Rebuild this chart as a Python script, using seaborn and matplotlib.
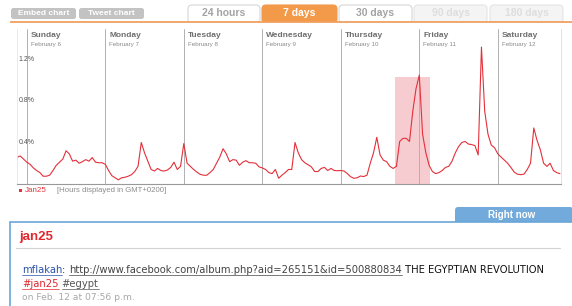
import matplotlib
matplotlib.use("Agg")
import pandas as pd
import matplotlib.pyplot as plt
import seaborn as sns
from matplotlib.patches import FancyBboxPatch, Rectangle

# hourly share of tweets (%), starting Saturday 21:00
share = [0.257, 0.27, 0.24, 0.21, 0.19, 0.155, 0.13, 0.11, 0.075, 0.075,
         0.085, 0.13, 0.18, 0.21, 0.24, 0.32, 0.29, 0.22, 0.23, 0.20,
         0.215, 0.235, 0.22, 0.255, 0.21, 0.205, 0.205, 0.19, 0.13, 0.08,
         0.06, 0.04, 0.06, 0.065, 0.075, 0.09, 0.12, 0.17, 0.40, 0.30,
         0.22, 0.14, 0.125, 0.15, 0.13, 0.125, 0.135, 0.16, 0.21, 0.14,
         0.17, 0.39, 0.20, 0.17, 0.14, 0.115, 0.093, 0.085, 0.084, 0.11,
         0.14, 0.20, 0.26, 0.34, 0.29, 0.215, 0.235, 0.23, 0.18, 0.21,
         0.225, 0.205, 0.205, 0.20, 0.165, 0.155, 0.14, 0.11, 0.10, 0.14,
         0.055, 0.085, 0.11, 0.14, 0.14, 0.40, 0.30, 0.235, 0.205, 0.185,
         0.165, 0.12, 0.12, 0.15, 0.16, 0.13, 0.15, 0.13, 0.128, 0.13,
         0.125, 0.10, 0.07, 0.055, 0.06, 0.077, 0.072, 0.085, 0.20, 0.30,
         0.45, 0.28, 0.23, 0.215, 0.17, 0.15, 0.17, 0.41, 0.44, 0.44,
         0.41, 0.70, 0.92, 1.05, 0.48, 0.30, 0.18, 0.12, 0.10, 0.11,
         0.13, 0.16, 0.17, 0.22, 0.30, 0.36, 0.40, 0.41, 0.385, 0.38,
         0.37, 0.28, 1.32, 0.70, 0.48, 0.375, 0.35, 0.29, 0.26, 0.23,
         0.20, 0.16, 0.115, 0.095, 0.09, 0.095, 0.14, 0.20, 0.54, 0.42,
         0.33, 0.20, 0.17, 0.20, 0.13, 0.11, 0.10]
hours = list(range(len(share)))

day_names = ['Sunday', 'Monday', 'Tuesday', 'Wednesday', 'Thursday', 'Friday', 'Saturday']
day_dates = ['February 6', 'February 7', 'February 8', 'February 9',
             'February 10', 'February 11', 'February 12']
day_starts = [3, 27, 51, 75, 99, 123, 147]
ytick_vals = [0.4, 0.8, 1.2]
ytick_labels = ['0.4%', '0.8%', '1.2%']
hl_from, hl_to, hl_top = 115.6, 126.3, 1.03

tab_names = ['24 hours', '7 days', '30 days', '90 days', '180 days']
tab_x = [(188, 260), (262, 337), (339, 412), (414, 487), (490, 563)]
tab_state = ['on', 'active', 'on', 'off', 'off']

sns.set_style('white')
plt.rcParams['font.family'] = ['Liberation Sans', 'DejaVu Sans']

W, H = 572, 306
fig = plt.figure(figsize=(W / 100, H / 100), dpi=100)

# background axes in pixel units
bg = fig.add_axes([0, 0, 1, 1])
bg.set_xlim(0, W)
bg.set_ylim(H, 0)
bg.axis('off')

# buttons
for (x0, x1), lab in zip([(11, 76), (79, 144)], ['Embed chart', 'Tweet chart']):
    bg.add_patch(FancyBboxPatch((x0, 8), x1 - x0, 11, boxstyle='round,pad=0,rounding_size=2.5',
                                fc='#c3c3c3', ec='none'))
    bg.text((x0 + x1) / 2, 13.7, lab, color='white', fontsize=6, fontweight='bold',
            ha='center', va='center')

# tabs
for (x0, x1), lab, st in zip(tab_x, tab_names, tab_state):
    if st == 'active':
        fc, ec, tc = '#f29a4a', '#f29a4a', 'white'
    elif st == 'on':
        fc, ec, tc = 'white', '#d6d6d6', '#a3a3a3'
    else:
        fc, ec, tc = '#f4f4f4', '#e4e4e4', '#dedede'
    bg.add_patch(FancyBboxPatch((x0, 5), x1 - x0, 18, boxstyle='round,pad=0,rounding_size=4',
                                fc=fc, ec=ec, lw=0.8))
    bg.text((x0 + x1) / 2, 13.5, lab, color=tc, fontsize=7.5, fontweight='bold',
            ha='center', va='center')
bg.add_patch(Rectangle((0, 22), W, 8, fc='white', ec='none'))
bg.plot([10, W], [21.5, 21.5], color='#f0a060', lw=1.3, solid_capstyle='butt')

# legend line
bg.add_patch(Rectangle((19, 188.5), 3, 3, fc='#e3343c', ec='none'))
bg.text(25, 190.5, 'Jan25', color='#e3343c', fontsize=5.8, va='center')
bg.text(57, 190.5, '[Hours displayed in GMT+0200]', color='#8c8c8c', fontsize=5.6, va='center')

# "Right now" box
bg.add_patch(FancyBboxPatch((455, 207), 118, 20, boxstyle='round,pad=0,rounding_size=3',
                            fc='#72aadb', ec='none'))
bg.text(512, 214.5, 'Right now', color='white', fontsize=7, fontweight='bold',
        ha='center', va='center')
bg.add_patch(Rectangle((9.5, 221.5), 600, 120, fc='white', ec='#6aa6d8', lw=1.2))
bg.text(19, 237, 'jan25', color='#e0282e', fontsize=9.5, fontweight='bold', va='center')
bg.plot([16, 560], [247.5, 247.5], color='#d2d2d2', lw=0.8)

renderer = fig.canvas.get_renderer()


def run(x, y, pieces, size=7.2):
    for txt, col, under in pieces:
        t = bg.text(x, y, txt, color=col, fontsize=size, va='center',
                    family=['DejaVu Sans'])
        bb = t.get_window_extent(renderer).transformed(bg.transData.inverted())
        if under:
            bg.plot([bb.x0, bb.x1], [y + 4.6, y + 4.6], color=col, lw=0.5)
        x = bb.x1
    return x


run(22, 270, [('mflakah', '#2a52a8', True), (': ', '#222222', False),
              ('http://www.facebook.com/album.php?aid=265151&id=500880834', '#444444', True),
              (' THE EGYPTIAN REVOLUTION', '#111111', False)])
run(22, 284, [('#jan25', '#e0282e', True), (' ', '#222222', False),
              ('#egypt', '#555555', True)])
run(22, 298, [('on Feb. 12 at 07:56 p.m.', '#a8a8a8', False)], size=6.6)

# chart axes
x_left, x_right, y_top, y_bot = 17, 561, 29, 184
px_per_hour = 78.5 / 24
px_per_pct = 41.5 / 0.4
ax = fig.add_axes([x_left / W, (H - y_bot) / H, (x_right - x_left) / W, (y_bot - y_top) / H])
ax.set_facecolor('none')
ax.set_xlim(0, (x_right - x_left) / px_per_hour)
ax.set_ylim(0, (y_bot - y_top) / px_per_pct)

ax.fill_between([hl_from, hl_to], 0, hl_top, color='#f6c3c8', alpha=0.85, lw=0)
for h, name, date in zip(day_starts, day_names, day_dates):
    ax.axvline(h, color='#b0b0b0', lw=0.7)
    ax.text(h + 1.2, 1.43, name, color='#6e6e6e', fontsize=6, fontweight='bold', va='center')
    ax.text(h + 1.2, 1.345, date, color='#8a8a8a', fontsize=4.5, va='center')

df = pd.DataFrame({'hour': hours, 'share': share})
sns.lineplot(data=df, x='hour', y='share', ax=ax, color='#e3303a', lw=0.8)

for v, lab in zip(ytick_vals, ytick_labels):
    ax.text(0.4, v, lab, color='#555555', fontsize=5, va='center')

ax.set_xticks([])
ax.set_yticks([])
ax.set_xlabel('')
ax.set_ylabel('')
sns.despine(ax=ax, top=True, right=False, left=False, bottom=False)
ax.spines['bottom'].set_color('#999999')
ax.spines['bottom'].set_linewidth(0.8)
ax.spines['left'].set_color('#e6e6e6')
ax.spines['left'].set_linewidth(0.6)
ax.spines['right'].set_color('#dddddd')
ax.spines['right'].set_linewidth(0.6)

fig.savefig('out.png', dpi=100)
